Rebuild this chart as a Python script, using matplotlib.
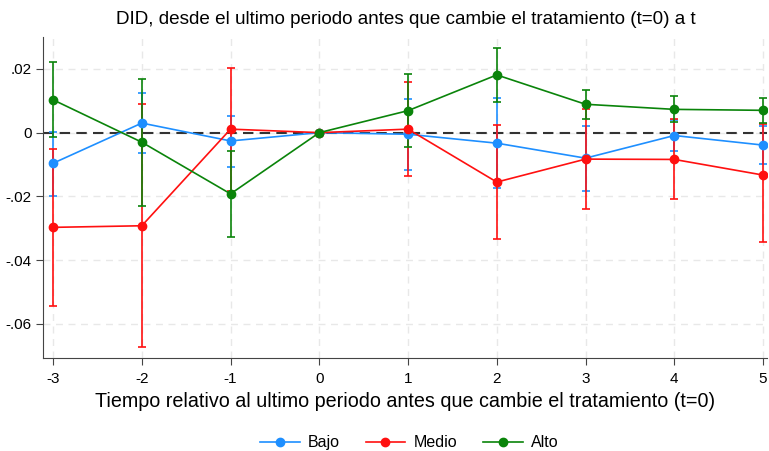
import numpy as np
import matplotlib.pyplot as plt
from matplotlib.lines import Line2D

plt.rcParams['font.family'] = ['Liberation Sans', 'DejaVu Sans']

t = [-3, -2, -1, 0, 1, 2, 3, 4, 5]

# point estimates
bajo = [-0.0096, 0.0030, -0.0026, 0.0, -0.0005, -0.0033, -0.0080, -0.0009, -0.0039]
medio = [-0.0297, -0.0292, 0.0011, 0.0, 0.0011, -0.0155, -0.0083, -0.0084, -0.0133]
alto = [0.0103, -0.0030, -0.0192, 0.0, 0.0069, 0.0181, 0.0089, 0.0073, 0.0070]

# confidence intervals (lower, upper)
bajo_lo = [-0.0198, -0.0065, -0.0107, 0.0, -0.0118, -0.0174, -0.0183, -0.0059, -0.0099]
bajo_hi = [0.0003, 0.0124, 0.0052, 0.0, 0.0107, 0.0109, 0.0022, 0.0041, 0.0021]
medio_lo = [-0.0543, -0.0672, -0.0182, 0.0, -0.0135, -0.0335, -0.0238, -0.0208, -0.0343]
medio_hi = [-0.0051, 0.0091, 0.0204, 0.0, 0.0158, 0.0024, 0.0074, 0.0042, 0.0026]
alto_lo = [-0.0013, -0.0229, -0.0326, 0.0, -0.0046, 0.0096, 0.0043, 0.0034, 0.0031]
alto_hi = [0.0221, 0.0169, -0.0058, 0.0, 0.0184, 0.0267, 0.0134, 0.0114, 0.0110]

series = [
    ('Bajo', bajo, bajo_lo, bajo_hi, '#1E8FFF'),
    ('Medio', medio, medio_lo, medio_hi, '#FF1010'),
    ('Alto', alto, alto_lo, alto_hi, '#0A840A'),
]

fig = plt.figure(figsize=(7.69, 4.51), dpi=100)
ax = fig.add_axes([0.0563, 0.206, 0.9417, 0.712])

ax.axhline(0, color='#333333', lw=1.5, ls=(0, (5, 3)), zorder=1)

handles = []
for name, y, lo, hi, col in series:
    y = np.array(y)
    err = [y - np.array(lo), np.array(hi) - y]
    ax.errorbar(t, y, yerr=err, color=col, lw=1.2, marker='o', ms=6,
                capsize=3, capthick=1.2, elinewidth=1.2, zorder=3)
    handles.append(Line2D([], [], color=col, lw=1.2, marker='o', ms=6, label=name))

ax.set_xlim(-3.11, 5.05)
ax.set_ylim(-0.0707, 0.030)
ax.set_xticks(t)
ax.set_xticklabels([str(v) for v in t])
ax.set_yticks([0.02, 0, -0.02, -0.04, -0.06])
ax.set_yticklabels(['.02', '0', '-.02', '-.04', '-.06'])
ax.tick_params(labelsize=11, length=5, color='#444444')
ax.tick_params(axis='x', pad=5)
ax.grid(True, ls=(0, (5, 4)), color='#e8e8e8', lw=1)
ax.set_axisbelow(True)
for s in ['top', 'right']:
    ax.spines[s].set_visible(False)
for s in ['left', 'bottom']:
    ax.spines[s].set_color('#444444')

ax.set_title('DID, desde el ultimo periodo antes que cambie el tratamiento (t=0) a t',
             fontsize=13.6, pad=9)
ax.set_xlabel('Tiempo relativo al ultimo periodo antes que cambie el tratamiento (t=0)',
              fontsize=14.2, labelpad=4)

fig.legend(handles=handles, loc='lower center', ncol=3, frameon=False, fontsize=11.5,
           bbox_to_anchor=(0.532, -0.03), columnspacing=1.6, handlelength=2.5,
           handletextpad=0.5)

fig.savefig('out.png', dpi=100)
